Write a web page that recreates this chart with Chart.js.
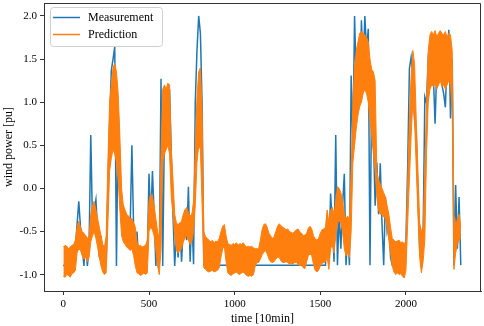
<!DOCTYPE html>
<html>
<head>
<meta charset="utf-8">
<script src="https://cdn.jsdelivr.net/npm/chart.js@4.4.1/dist/chart.umd.min.js"></script>
<style>
  html, body { margin: 0; padding: 0; background: #fff; }
  #wrap { width: 484px; height: 326px; }
</style>
</head>
<body>
<div id="wrap"><canvas id="windChart" width="484" height="326"></canvas></div>
<script>
// one value per 10 steps (10min units)
const sampleStep = 10;

const measurement = [
  -0.90, -0.88, -0.85, -0.90, -0.80, -0.88, -0.75, -0.70, -0.42, -0.15,
  -0.45, -0.65, -0.90, -0.55, -0.90, -0.70, 0.62, -0.40, -0.25, -0.13,
  -0.50, -0.80, -0.55, -0.85, -0.75, -0.88, 0.00, 0.77, 1.37, 1.50,
  1.64, -0.90, 0.90, 0.30, -0.40, -0.20, -0.55, -0.35, -0.65, -0.45,
  0.50, -0.45, -0.70, -0.50, -0.88, -0.85, -0.90, -0.85, -0.88, -0.80,
  0.17, -0.40, 0.20, -0.30, -0.90, -0.55, -0.85, 1.27, -0.90, 0.70,
  1.10, 0.50, 1.15, 0.40, -0.30, -0.90, -0.50, -0.80, -0.40, -0.85,
  -0.45, -0.25, -0.60, 0.02, -0.85, -0.30, -0.88, 0.99, 1.60, 2.00,
  1.80, 0.96, -0.89, -0.89, -0.89, -0.89, -0.89, -0.89, -0.89, -0.89,
  -0.89, -0.89, -0.89, -0.89, -0.89, -0.89, -0.89, -0.89, -0.89, -0.89,
  -0.89, -0.89, -0.89, -0.89, -0.89, -0.89, -0.89, -0.89, -0.89, -0.89,
  -0.89, -0.89, -0.89, -0.89, -0.89, -0.89, -0.89, -0.89, -0.89, -0.89,
  -0.89, -0.89, -0.89, -0.89, -0.89, -0.89, -0.89, -0.89, -0.89, -0.89,
  -0.89, -0.89, -0.89, -0.89, -0.89, -0.89, -0.89, -0.89, -0.89, -0.89,
  -0.89, -0.89, -0.89, -0.89, -0.89, -0.89, -0.89, -0.89, -0.89, -0.89,
  -0.89, -0.89, -0.89, -0.89, -0.30, -0.80, -0.06, -0.40, -0.85, 0.62,
  -0.89, -0.30, -0.70, -0.20, 0.17, -0.89, -0.50, -0.89, 1.31, 0.50,
  2.00, 1.20, 1.55, 1.00, 1.95, 1.40, 2.00, 1.60, 1.85, -0.89,
  1.20, 0.60, -0.20, 0.30, -0.30, 0.29, -0.40, -0.89, -0.10, -0.50,
  -0.40, -0.80, -0.89, -0.89, -0.85, -0.89, -0.85, -0.90, -0.88, -0.90,
  -0.60, 0.25, 1.39, 1.52, 1.30, 0.80, 0.63, -0.10, -0.70, -0.89,
  -0.60, 1.06, 0.99, 1.50, 1.40, 1.70, 1.30, 0.75, 1.40, 1.60,
  1.50, 1.20, 1.10, 0.94, 1.50, 1.84, 0.81, 1.50, -0.89, 0.04,
  -0.70, -0.10, -0.89
];

// the prediction swings fast inside each 10-step bin, so it is kept
// as the top and bottom of its band per bin
const predHigh = [
  -0.68, -0.66, -0.67, -0.70, -0.68, -0.66, -0.65, -0.60, -0.45, -0.38,
  -0.45, -0.50, -0.52, -0.55, -0.58, -0.55, -0.30, -0.20, -0.15, -0.25,
  -0.35, -0.45, -0.55, -0.65, -0.68, -0.55, 0.30, 1.00, 1.20, 1.40,
  1.45, 1.35, 1.10, 0.60, 0.00, -0.20, -0.25, -0.30, -0.32, -0.35,
  -0.35, -0.40, -0.45, -0.62, -0.67, -0.66, -0.68, -0.67, -0.66, -0.60,
  -0.15, -0.06, -0.10, -0.20, -0.35, -0.50, -0.60, 0.40, 1.15, 1.20,
  1.15, 1.22, 1.20, 0.45, 0.10, -0.30, -0.40, -0.42, -0.40, -0.38,
  -0.30, -0.25, -0.22, -0.28, -0.32, -0.30, -0.15, 0.45, 1.05, 1.35,
  1.40, 0.90, -0.50, -0.56, -0.58, -0.60, -0.62, -0.60, -0.63, -0.61,
  -0.62, -0.58, -0.50, -0.44, -0.42, -0.55, -0.64, -0.65, -0.66, -0.64,
  -0.65, -0.63, -0.66, -0.64, -0.65, -0.63, -0.66, -0.68, -0.67, -0.68,
  -0.67, -0.69, -0.70, -0.70, -0.70, -0.60, -0.48, -0.42, -0.41, -0.45,
  -0.52, -0.55, -0.58, -0.56, -0.50, -0.44, -0.41, -0.43, -0.45, -0.46,
  -0.48, -0.47, -0.50, -0.51, -0.52, -0.50, -0.48, -0.47, -0.50, -0.52,
  -0.55, -0.54, -0.52, -0.46, -0.44, -0.47, -0.55, -0.58, -0.60, -0.58,
  -0.52, -0.48, -0.47, -0.45, -0.25, -0.40, -0.25, -0.22, -0.30, -0.15,
  0.02, 0.00, -0.05, -0.15, -0.30, -0.35, -0.32, -0.38, 0.20, 1.00,
  1.40, 1.60, 1.70, 1.80, 1.82, 1.80, 1.78, 1.75, 1.70, 1.50,
  1.38, 1.35, 1.25, 0.20, 0.10, 0.05, 0.00, -0.05, -0.10, -0.20,
  -0.30, -0.45, -0.58, -0.60, -0.62, -0.61, -0.60, -0.63, -0.62, -0.65,
  -0.60, 0.10, 0.80, 1.30, 1.60, 1.45, 0.80, 0.20, -0.40, -0.50,
  -0.45, 0.20, 1.00, 1.60, 1.78, 1.82, 1.78, 1.83, 1.76, 1.80,
  1.83, 1.80, 1.78, 1.82, 1.75, 1.80, 1.78, 1.60, -0.30, -0.45,
  -0.35, -0.30, -0.45
];

const predLow = [
  -1.02, -1.03, -1.00, -1.01, -1.03, -0.99, -0.98, -0.95, -0.75, -0.70,
  -0.72, -0.78, -0.82, -0.80, -0.85, -0.80, -0.62, -0.55, -0.50, -0.58,
  -0.68, -0.80, -0.90, -0.97, -1.00, -0.98, -0.40, 0.20, 0.35, 0.45,
  0.40, 0.30, 0.10, -0.25, -0.55, -0.62, -0.65, -0.68, -0.70, -0.72,
  -0.70, -0.78, -0.90, -0.98, -0.99, -1.01, -1.00, -0.98, -1.00, -0.98,
  -0.50, -0.45, -0.48, -0.55, -0.72, -0.90, -1.00, -0.70, 0.30, 0.40,
  0.45, 0.50, 0.40, -0.10, -0.30, -0.55, -0.72, -0.75, -0.72, -0.70,
  -0.62, -0.58, -0.55, -0.60, -0.65, -0.62, -0.50, -0.20, 0.30, 0.50,
  0.45, -0.20, -0.92, -0.94, -0.96, -0.97, -0.96, -0.95, -0.97, -0.96,
  -0.95, -0.92, -0.80, -0.70, -0.68, -0.85, -0.98, -1.00, -1.01, -0.99,
  -0.98, -0.97, -0.99, -1.00, -0.98, -0.97, -0.99, -1.01, -1.02, -1.01,
  -1.02, -1.00, -0.90, -0.86, -0.86, -0.82, -0.77, -0.74, -0.72, -0.76,
  -0.82, -0.85, -0.86, -0.85, -0.82, -0.80, -0.80, -0.84, -0.86, -0.86,
  -0.85, -0.86, -0.88, -0.87, -0.88, -0.86, -0.86, -0.88, -0.90, -0.88,
  -0.92, -0.93, -0.85, -0.78, -0.76, -0.78, -0.88, -0.95, -0.97, -0.95,
  -0.90, -0.87, -0.86, -0.85, -0.80, -0.94, -0.70, -0.65, -0.75, -0.55,
  -0.40, -0.38, -0.40, -0.50, -0.70, -0.78, -0.75, -0.80, -0.50, 0.30,
  0.50, 0.70, 0.85, 0.95, 1.00, 1.10, 1.15, 1.10, 1.00, 0.80,
  0.60, 0.40, 0.20, -0.10, -0.25, -0.30, -0.30, -0.33, -0.35, -0.45,
  -0.60, -0.75, -0.90, -0.97, -1.00, -0.98, -1.00, -0.99, -1.02, -1.04,
  -0.95, -0.40, 0.10, 0.60, 1.00, 0.80, 0.25, -0.30, -0.80, -0.98,
  -0.85, -0.60, 0.40, 1.00, 1.15, 1.20, 1.18, 1.22, 1.15, 1.20,
  1.25, 1.18, 1.20, 1.15, 1.20, 1.25, 1.20, 0.90, -0.94, -0.75,
  -0.65, -0.60, -0.55
];

const seriesNames = ["Measurement", "Prediction"];
const seriesColors = ["#1f77b4", "#ff7f0e"];
const xTicks = [0, 500, 1000, 1500, 2000];
const yTicks = [-1.0, -0.5, 0.0, 0.5, 1.0, 1.5, 2.0];

const timeIdx = measurement.map((_, i) => i * sampleStep);
const toPoints = arr => arr.map((v, i) => ({ x: timeIdx[i], y: v }));

const FONT = "'Liberation Serif', 'Times New Roman', serif";
const AXIS = "#333";

// top/right spines + matplotlib style legend box
const framePlugin = {
  id: "frame",
  afterDraw(chart) {
    const { ctx, chartArea: a } = chart;
    ctx.save();
    ctx.strokeStyle = AXIS;
    ctx.lineWidth = 1;
    ctx.beginPath();
    ctx.moveTo(a.left, a.top + 0.5);
    ctx.lineTo(a.right - 0.5, a.top + 0.5);
    ctx.lineTo(a.right - 0.5, a.bottom);
    ctx.stroke();

    const lx = a.left + 6, ly = a.top + 4, lw = 112, lh = 39;
    ctx.beginPath();
    ctx.roundRect(lx + 0.5, ly + 0.5, lw, lh, 3);
    ctx.fillStyle = "rgba(255,255,255,0.8)";
    ctx.fill();
    ctx.strokeStyle = "#d0d0d0";
    ctx.stroke();

    ctx.font = "12px " + FONT;
    ctx.textBaseline = "middle";
    seriesNames.forEach((name, i) => {
      const y = ly + 10.5 + i * 17;
      ctx.strokeStyle = seriesColors[i];
      ctx.lineWidth = 1.5;
      ctx.beginPath();
      ctx.moveTo(lx + 3, y);
      ctx.lineTo(lx + 30, y);
      ctx.stroke();
      ctx.fillStyle = "#000";
      ctx.fillText(name, lx + 38, y + 0.5);
    });
    ctx.restore();
  }
};

const ctx = document.getElementById("windChart").getContext("2d");

new Chart(ctx, {
  type: "line",
  data: {
    datasets: [
      {
        label: seriesNames[0],
        data: toPoints(measurement),
        borderColor: seriesColors[0],
        borderWidth: 1.5,
        pointRadius: 0,
        tension: 0,
        fill: false,
        order: 2
      },
      {
        label: seriesNames[1] + " (top)",
        data: toPoints(predHigh),
        borderColor: seriesColors[1],
        borderWidth: 1,
        pointRadius: 0,
        tension: 0,
        fill: false,
        order: 1
      },
      {
        label: seriesNames[1],
        data: toPoints(predLow),
        borderColor: seriesColors[1],
        backgroundColor: seriesColors[1],
        borderWidth: 1,
        pointRadius: 0,
        tension: 0,
        fill: "-1",
        order: 0
      }
    ]
  },
  options: {
    responsive: false,
    animation: false,
    devicePixelRatio: 1,
    layout: { padding: { top: 3, right: 3, left: 0, bottom: 0 } },
    plugins: {
      legend: { display: false },
      tooltip: { enabled: false }
    },
    scales: {
      x: {
        type: "linear",
        min: -113,
        max: 2438,
        afterBuildTicks: s => { s.ticks = xTicks.map(v => ({ value: v })); },
        afterFit: s => { s.height = 35; s.paddingLeft = 0; s.paddingRight = 0; },
        grid: { drawOnChartArea: false, drawTicks: true, tickLength: 4, color: AXIS },
        border: { display: true, color: AXIS, width: 1 },
        ticks: {
          font: { family: FONT, size: 11 },
          color: "#000",
          padding: 3,
          maxRotation: 0,
          callback: v => String(v)
        },
        title: {
          display: true,
          text: "time [10min]",
          font: { family: FONT, size: 12 },
          color: "#000",
          padding: { top: 0, bottom: 0 }
        }
      },
      y: {
        min: -1.19,
        max: 2.15,
        afterBuildTicks: s => { s.ticks = yTicks.map(v => ({ value: v })); },
        afterFit: s => { s.width = 44; s.paddingTop = 0; s.paddingBottom = 0; },
        grid: { drawOnChartArea: false, drawTicks: true, tickLength: 4, color: AXIS },
        border: { display: true, color: AXIS, width: 1 },
        ticks: {
          font: { family: FONT, size: 11 },
          color: "#000",
          padding: 3,
          callback: v => v.toFixed(1)
        },
        title: {
          display: true,
          text: "wind power [pu]",
          font: { family: FONT, size: 12 },
          color: "#000",
          padding: { top: 2, bottom: 0 }
        }
      }
    }
  },
  plugins: [framePlugin]
});
</script>
</body>
</html>
